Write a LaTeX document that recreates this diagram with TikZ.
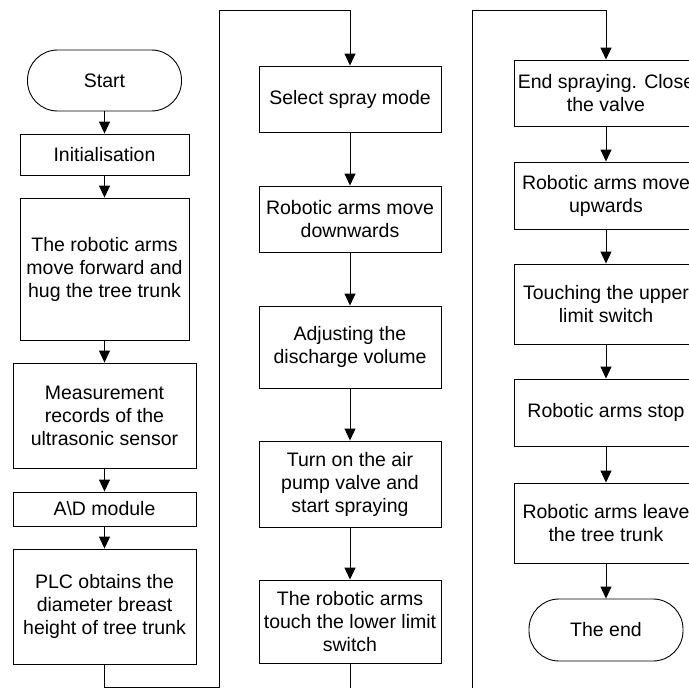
\documentclass[tikz,border=0pt]{standalone}
\usepackage{fontspec}
\setmainfont{Liberation Sans}
\usetikzlibrary{arrows.meta}
\tikzset{
  proc/.style={draw, line width=0.9pt, inner sep=0pt, align=center,
    font=\fontsize{19.5}{23}\selectfont},
  term/.style={proc, rounded corners=30pt},
  flow/.style={draw, line width=0.9pt, -{Triangle[length=12pt,width=11pt]}},
}

\begin{document}
\begin{tikzpicture}[x=1pt,y=-1pt]
	%%%%% START %%%%%
	\def\xone{104.5}
	\def\xtwo{350}
	\def\xthree{606}
	\def\wsm{169pt}
	\def\wlg{183pt}
	\def\wmid{182pt}
	\def\wrt{184pt}
	\def\wterm{154pt}

	\useasboundingbox (0,0) rectangle (689,688);
	\clip (0,0) rectangle (689,688);

	% first column
	\node[term, minimum width=\wterm, minimum height=61pt] (start) at (\xone,80.5) {Start};
	\node[proc, minimum width=\wsm, minimum height=41pt] (init) at (\xone,154.5) {Initialisation};
	\node[proc, minimum width=\wsm, minimum height=142pt] (hug) at (\xone,269) {The robotic arms\\move forward and\\hug the tree trunk};
	\node[proc, minimum width=\wlg, minimum height=105pt] (meas) at (\xone,415.5) {Measurement\\records of the\\ultrasonic sensor};
	\node[proc, minimum width=\wlg, minimum height=34pt] (ad) at (\xone,509) {A\textbackslash D module};
	\node[proc, minimum width=\wlg, minimum height=115pt] (plc) at (\xone,606.5) {PLC obtains the\\diameter breast\\height of tree trunk};

	% second column
	\node[proc, minimum width=\wmid, minimum height=66pt] (select) at (\xtwo,99) {Select spray mode};
	\node[proc, minimum width=\wmid, minimum height=66pt] (down) at (\xtwo,219) {Robotic arms move\\downwards};
	\node[proc, minimum width=\wmid, minimum height=82pt] (adjust) at (\xtwo,347) {Adjusting the\\discharge volume};
	\node[proc, minimum width=\wmid, minimum height=86pt] (pump) at (\xtwo,484) {Turn on the air\\pump valve and\\start spraying};
	\node[proc, minimum width=\wmid, minimum height=83pt] (lower) at (\xtwo,621.5) {The robotic arms\\touch the lower limit\\switch};

	% third column
	\node[proc, minimum width=\wrt, minimum height=66pt] (endspray) at (\xthree,93) {End spraying. Close\\the valve};
	\node[proc, minimum width=\wrt, minimum height=67pt] (up) at (\xthree,195.5) {Robotic arms move\\upwards};
	\node[proc, minimum width=\wrt, minimum height=80pt] (upper) at (\xthree,304) {Touching the upper\\limit switch};
	\node[proc, minimum width=\wrt, minimum height=67pt] (stop) at (\xthree,412.5) {Robotic arms stop};
	\node[proc, minimum width=\wrt, minimum height=80pt] (leave) at (\xthree,523) {Robotic arms leave\\the tree trunk};
	\node[term, minimum width=\wterm, minimum height=62pt] (theend) at (\xthree,630) {The end};

	\foreach \a/\b in {start/init, init/hug, hug/meas, meas/ad, ad/plc,
		select/down, down/adjust, adjust/pump, pump/lower,
		endspray/up, up/upper, upper/stop, stop/leave, leave/theend}
		\draw[flow] (\a) -- (\b);

	\draw[flow] (plc.south) -- (\xone,687) -- (219,687) -- (219,10) -- (\xtwo,10) -- (select.north);
	\draw[flow] (lower.south) -- (\xtwo,700) -- (472,700) -- (472,10) -- (\xthree,10) -- (endspray.north);
	%%%%% END %%%%%
\end{tikzpicture}
\end{document}
